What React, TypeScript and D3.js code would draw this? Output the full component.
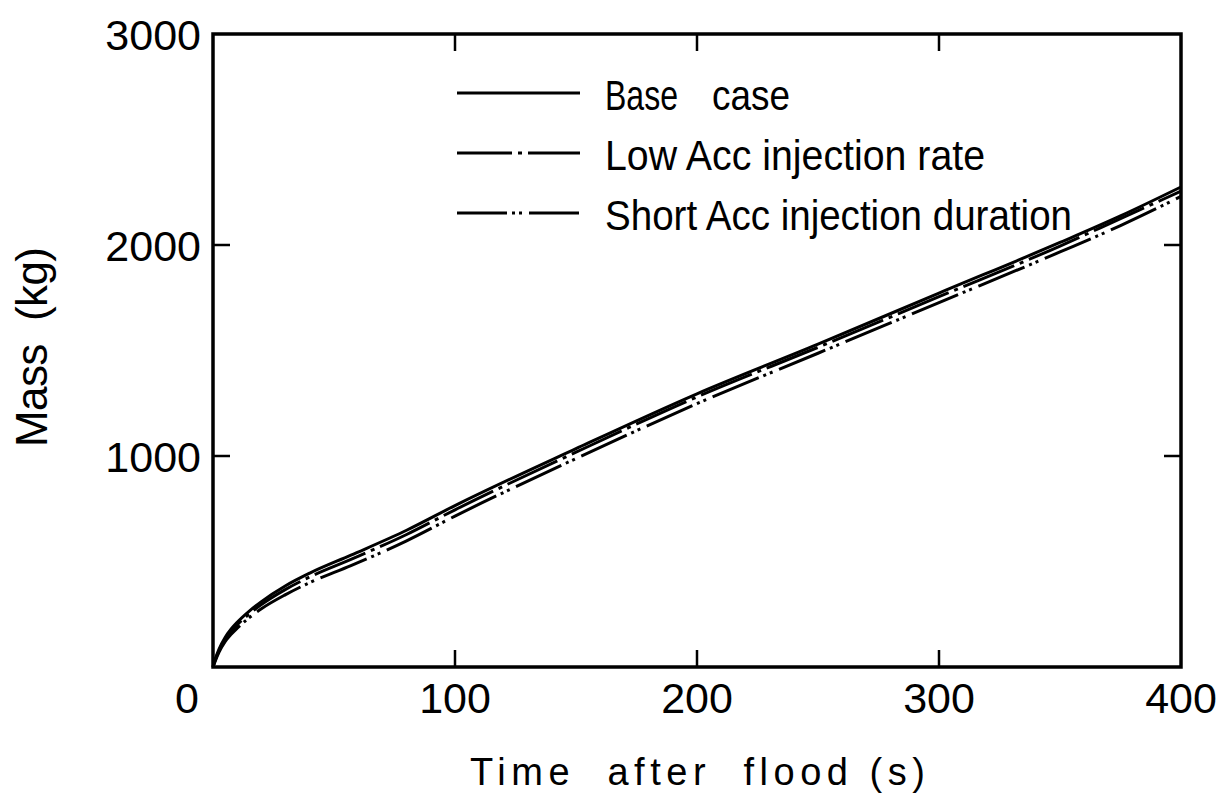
import React from "react";
import * as d3 from "d3";

// Time after flood (s) and accumulated mass (kg) for each case
const baseTime = [0, 1, 2.5, 5, 7.5, 10, 15, 20, 30, 40, 57, 80, 100, 150, 200, 250, 300, 350, 375, 400];
const baseMass = [0, 40, 85, 140, 180, 212, 265, 310, 385, 445, 530, 648, 765, 1035, 1295, 1530, 1772, 2012, 2138, 2275];

const lowTime = [0, 1, 2.5, 5, 7.5, 10, 15, 20, 30, 40, 57, 80, 100, 150, 200, 250, 300, 350, 375, 400];
const lowMass = [0, 35, 78, 130, 168, 200, 252, 296, 368, 427, 510, 628, 745, 1018, 1280, 1515, 1755, 1995, 2125, 2255];

const shortTime = [0, 1, 2.5, 5, 7.5, 10, 15, 20, 30, 40, 57, 80, 100, 150, 200, 250, 300, 350, 375, 400];
const shortMass = [0, 30, 70, 120, 155, 184, 234, 276, 343, 400, 480, 598, 715, 988, 1248, 1487, 1727, 1967, 2092, 2230];

const xTicks = [0, 100, 200, 300, 400];
const yTicks = [0, 1000, 2000, 3000];

const legendLabels = ["Base", "Low Acc injection rate", "Short Acc injection duration"];
const dashes = ["none", "55,6,4,6", "50,5,3,4,3,7"];

const W = 1222;
const H = 796;
const FONT = "'Liberation Sans', Arial, sans-serif";

export default function App() {
  const x = d3.scaleLinear().domain([0, 400]).range([213, 1181]);
  const y = d3.scaleLinear().domain([0, 3000]).range([667, 34]);

  const line = d3
    .line<[number, number]>()
    .x((d) => x(d[0]))
    .y((d) => y(d[1]))
    .curve(d3.curveMonotoneX);

  const series = [
    baseTime.map((t, i) => [t, baseMass[i]] as [number, number]),
    lowTime.map((t, i) => [t, lowMass[i]] as [number, number]),
    shortTime.map((t, i) => [t, shortMass[i]] as [number, number]),
  ];

  const tickLen = 17;
  const legendY = [93, 153, 213];
  const legendEnds = [null, 985, 1072];

  return (
    <svg
      width={W}
      height={H}
      style={{ position: "absolute", left: 0, top: 0, background: "#fff" }}
      fontFamily={FONT}
    >
      <rect x={0} y={0} width={W} height={H} fill="#fff" />

      {/* curves */}
      {series.map((s, i) => (
        <path
          key={i}
          d={line(s) || ""}
          fill="none"
          stroke="#000"
          strokeWidth={3}
          strokeDasharray={dashes[i]}
        />
      ))}

      {/* inner ticks on all four sides */}
      {xTicks.slice(1, -1).map((t) => (
        <g key={"xt" + t} stroke="#000" strokeWidth={2.5}>
          <line x1={x(t)} x2={x(t)} y1={y(0)} y2={y(0) - tickLen} />
          <line x1={x(t)} x2={x(t)} y1={y(3000)} y2={y(3000) + tickLen} />
        </g>
      ))}
      {yTicks.slice(1, -1).map((t) => (
        <g key={"yt" + t} stroke="#000" strokeWidth={2.5}>
          <line x1={x(0)} x2={x(0) + tickLen} y1={y(t)} y2={y(t)} />
          <line x1={x(400)} x2={x(400) - tickLen} y1={y(t)} y2={y(t)} />
        </g>
      ))}

      {/* frame */}
      <rect
        x={x(0)}
        y={y(3000)}
        width={x(400) - x(0)}
        height={y(0) - y(3000)}
        fill="none"
        stroke="#000"
        strokeWidth={3.5}
      />

      {/* x tick labels */}
      {xTicks.map((t) => (
        <text
          key={"xl" + t}
          x={t === 0 ? 187 : x(t)}
          y={713}
          fontSize={43}
          textAnchor="middle"
          fill="#000"
        >
          {t}
        </text>
      ))}

      {/* y tick labels */}
      {yTicks.slice(1).map((t) => (
        <text
          key={"yl" + t}
          x={201}
          y={y(t) + 16}
          fontSize={43}
          textAnchor="end"
          fill="#000"
        >
          {t}
        </text>
      ))}

      {/* axis titles */}
      <text
        x={470}
        y={785}
        fontSize={38}
        textLength={455}
        lengthAdjust="spacing"
        fill="#000"
        style={{ whiteSpace: "pre" }}
      >
        {"Time  after  flood (s)"}
      </text>
      <text
        transform="translate(47,447) rotate(-90)"
        x={0}
        y={0}
        fontSize={44}
        textLength={200}
        lengthAdjust="spacing"
        fill="#000"
        style={{ whiteSpace: "pre" }}
      >
        {"Mass  (kg)"}
      </text>

      {/* legend */}
      {legendLabels.map((lab, i) => (
        <g key={"lg" + i}>
          <line
            x1={457}
            x2={580}
            y1={legendY[i]}
            y2={legendY[i]}
            stroke="#000"
            strokeWidth={3}
            strokeDasharray={dashes[i]}
          />
          {i === 0 ? (
            <>
              <text x={605} y={legendY[i] + 17} fontSize={42} textLength={73} lengthAdjust="spacingAndGlyphs" fill="#000">
                {lab}
              </text>
              <text x={712} y={legendY[i] + 17} fontSize={42} textLength={78} lengthAdjust="spacingAndGlyphs" fill="#000">
                case
              </text>
            </>
          ) : (
            <text
              x={605}
              y={legendY[i] + 17}
              fontSize={42}
              textLength={(legendEnds[i] as number) - 605}
              lengthAdjust="spacingAndGlyphs"
              fill="#000"
            >
              {lab}
            </text>
          )}
        </g>
      ))}
    </svg>
  );
}
